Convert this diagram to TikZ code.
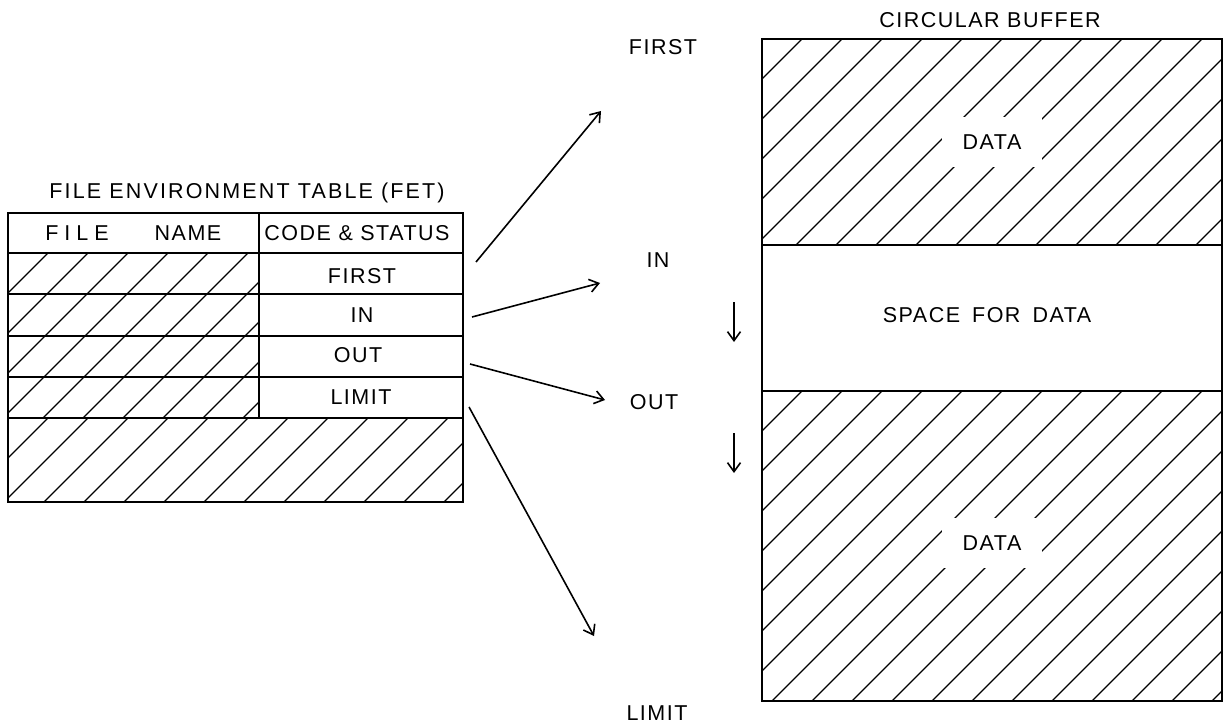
\documentclass[tikz,border=0pt]{standalone}
\usepackage{fontspec}
\setmainfont{Liberation Sans}[LetterSpace=7.0]
\usetikzlibrary{arrows.meta}
\newcommand{\myhatch}[4]{%
  \begin{scope}
    \clip (#1,#2) rectangle (#3,#4);
    \pgfmathsetmacro\hh{#4-#2}
    \pgfmathsetmacro\xa{#1-\hh}
    \pgfmathsetmacro\xb{\xa+40}
    \foreach \s in {\xa,\xb,...,#3}
      \draw[hatchline] (\s,#4) -- ++(\hh,-\hh);
  \end{scope}}
\begin{document}
\begin{tikzpicture}[x=1pt,y=-1pt,
  box/.style={line width=2.2pt, line join=miter},
  hatchline/.style={line width=1.3pt},
  lbl/.style={font=\fontsize{21.5}{24}\selectfont, inner sep=0pt},
  gap/.style={lbl, fill=white, inner xsep=21pt, inner ysep=18pt},
  ptr/.style={line width=1.6pt, -{Straight Barb[length=9pt,width=13pt,line width=1.6pt]}}]
\useasboundingbox (0,0) rectangle (1225,727);

% ---------- File environment table ----------
\myhatch{8}{253}{259}{418}
\myhatch{8}{418}{463}{502}
\draw[box] (8,213) rectangle (463,502);
\foreach \y in {253,294,336,377,418} \draw[box] (8,\y) -- (463,\y);
\draw[box] (259,213) -- (259,418);

\node[lbl] (fettitle) at (247,193) {\addfontfeature{LetterSpace=10}FILE ENVIRONMENT TABLE (FET)};
\node[lbl] (hfile) at (77,233) {\addfontfeature{LetterSpace=28}FILE};
\node[lbl] (hname) at (188,233) {NAME};
\node[lbl] (hcode) at (357,233) {CODE \& STATUS};
\node[lbl] (cfirst) at (362,276) {FIRST};
\node[lbl] (cin) at (362,315) {IN};
\node[lbl] (cout) at (358,355) {OUT};
\node[lbl] (climit) at (361,397) {LIMIT};

% ---------- Circular buffer ----------
\myhatch{762}{39}{1222}{245}
\myhatch{762}{391}{1222}{701}
\draw[box] (762,39) rectangle (1222,701);
\draw[box] (762,245) -- (1222,245);
\draw[box] (762,391) -- (1222,391);
\node[lbl] (cbtitle) at (990,20) {CIRCULAR BUFFER};
\node[gap] (data1) at (992,142) {DATA};
\node[lbl] (space) at (987,315) {SPACE\hspace{12pt}FOR\hspace{12pt}DATA};
\node[gap] (data2) at (992,543) {DATA};

% ---------- pointer labels ----------
\node[lbl] (pfirst) at (663,47) {FIRST};
\node[lbl] (pin) at (658,260) {IN};
\node[lbl] (pout) at (654,402) {OUT};
\node[lbl] (plimit) at (657,713) {LIMIT};

% ---------- pointer arrows ----------
\coordinate (sF) at (476,262); \coordinate (eF) at (601,111);
\coordinate (sI) at (472,317); \coordinate (eI) at (600,283);
\coordinate (sO) at (470,364); \coordinate (eO) at (605,400);
\coordinate (sL) at (469,407); \coordinate (eL) at (594,636);
\draw[ptr] (sF) -- (eF);
\draw[ptr] (sI) -- (eI);
\draw[ptr] (sO) -- (eO);
\draw[ptr] (sL) -- (eL);

% ---------- direction arrows ----------
\coordinate (d1a) at (734,302); \coordinate (d1b) at (734,342);
\coordinate (d2a) at (734,433); \coordinate (d2b) at (734,473);
\draw[ptr] (d1a) -- (d1b);
\draw[ptr] (d2a) -- (d2b);
\end{tikzpicture}
\end{document}
